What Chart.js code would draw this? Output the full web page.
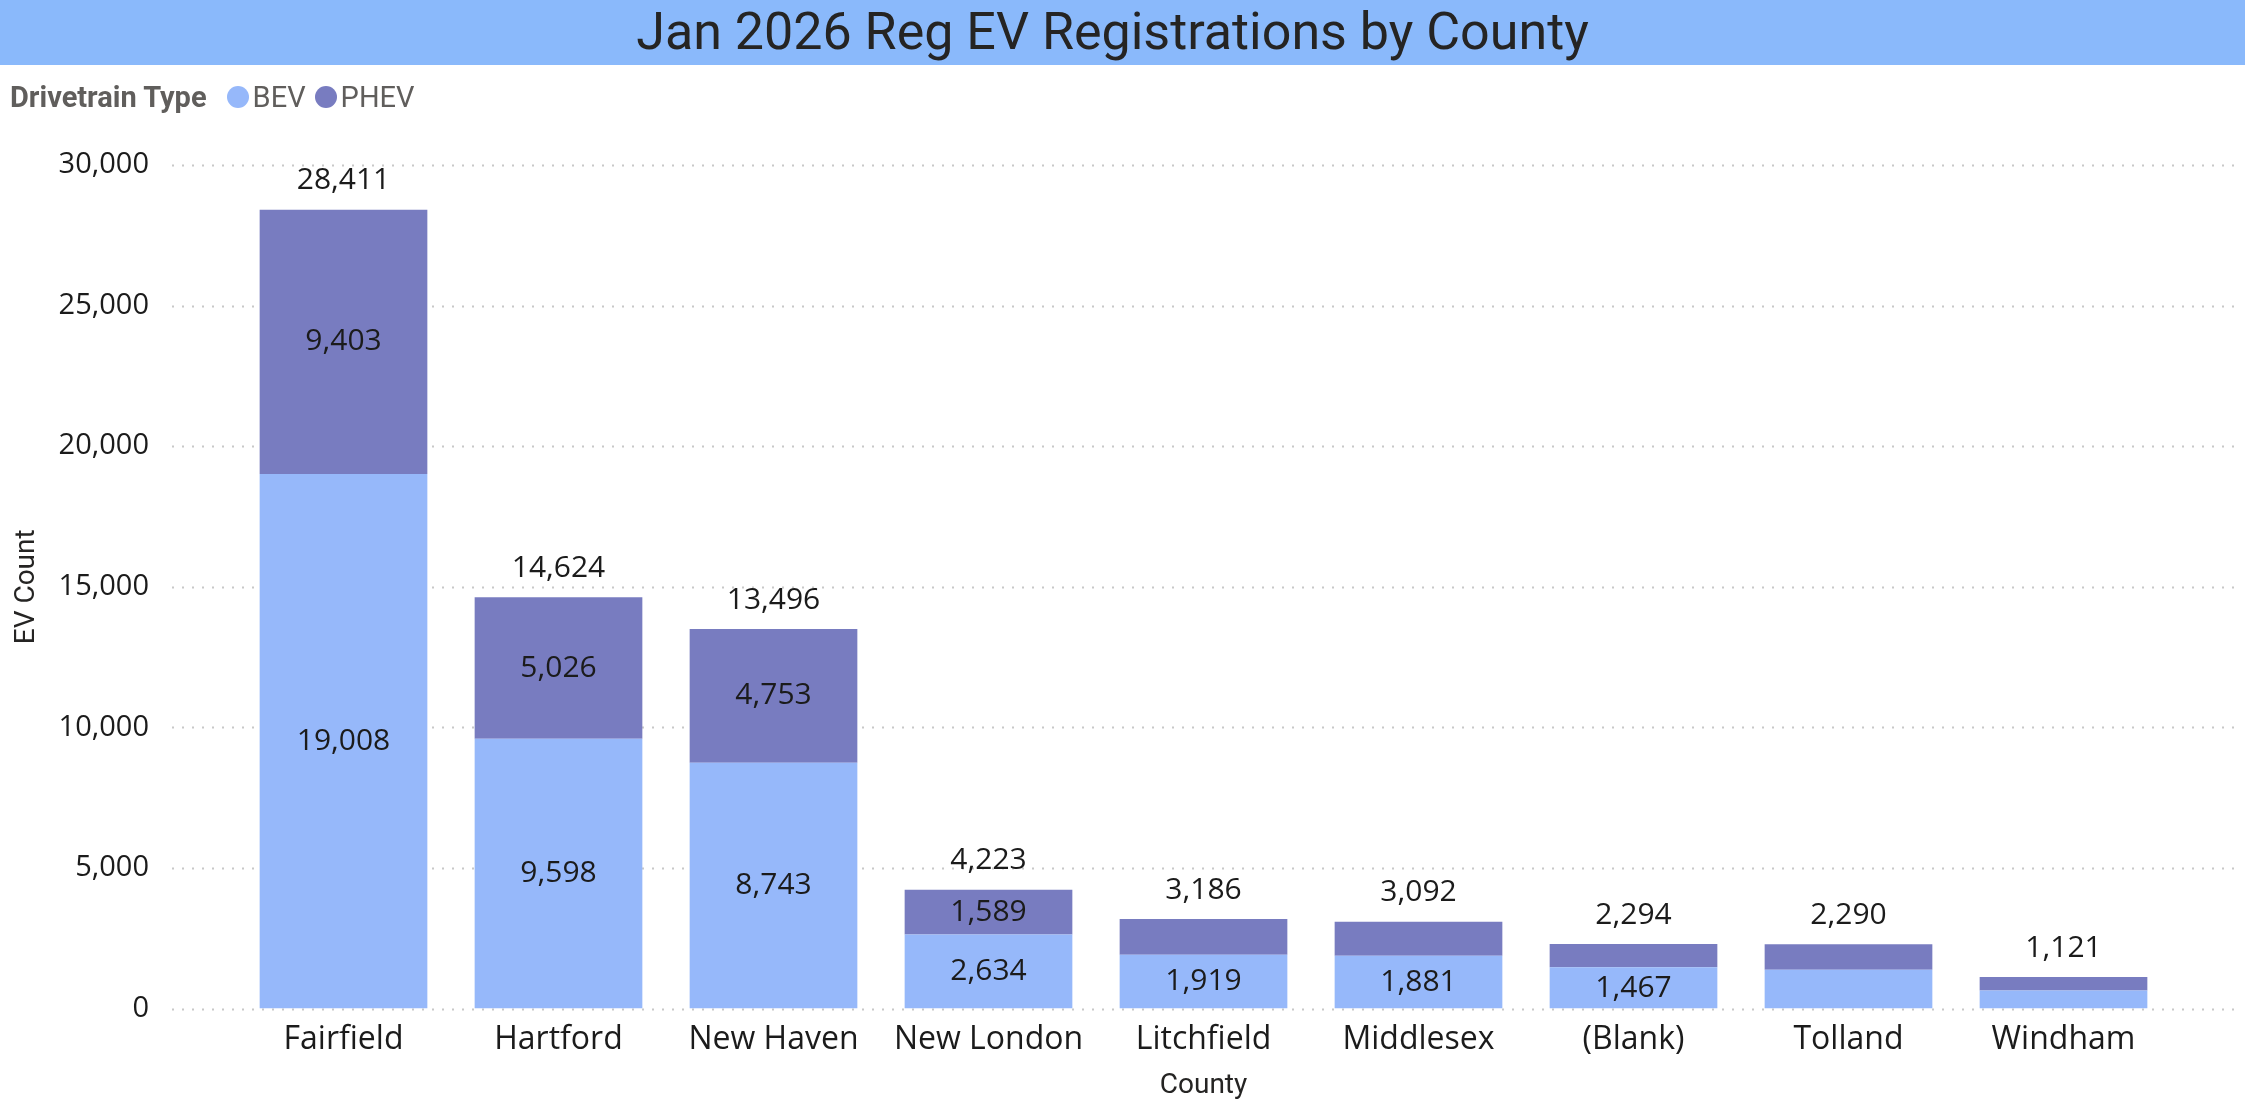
<!DOCTYPE html>
<html>
<head>
<meta charset="utf-8">
<script src="https://cdn.jsdelivr.net/npm/chart.js@4/dist/chart.umd.min.js"></script>
<style>
  html, body { margin: 0; padding: 0; background: #fff; }
  body { width: 2245px; height: 1105px; position: relative; overflow: hidden; }
  #chart { position: absolute; left: 0; top: 0; }
  #title {
    position: absolute; left: 0; top: 0; width: 2245px; height: 65px;
    background: #8ab9fb; color: #252423;
    font-family: Roboto, "DejaVu Sans", sans-serif; font-size: 52px; font-weight: 400;
    line-height: 64px; text-align: center; box-sizing: border-box; padding-right: 20px;
  }
  #legend {
    position: absolute; left: 10px; top: 80px; height: 34px;
    display: flex; align-items: center;
    font-family: Roboto, "DejaVu Sans", sans-serif; font-size: 29px; color: #605e5c;
  }
  #legend .head { font-weight: bold; margin-right: 20px; }
  #legend .item { display: flex; align-items: center; margin-right: 9px; }
  #legend .dot { width: 22px; height: 22px; border-radius: 50%; margin-right: 4px; }
</style>
</head>
<body>
<canvas id="chart" width="2245" height="1105"></canvas>
<div id="title">Jan 2026 Reg EV Registrations by County</div>
<div id="legend"><span class="head">Drivetrain Type</span></div>
<script>
// データ
const counties = ["Fairfield", "Hartford", "New Haven", "New London", "Litchfield",
  "Middlesex", "(Blank)", "Tolland", "Windham"];
const bevCounts = [19008, 9598, 8743, 2634, 1919, 1881, 1467, 1383, 640];
const phevCounts = [9403, 5026, 4753, 1589, 1267, 1211, 827, 907, 481];
const seriesNames = ["BEV", "PHEV"];
const seriesColors = ["#96b8fa", "#787cc0"];
const yMax = 30000;
const yStep = 5000;

const labelFont = "30px 'Segoe UI', 'Open Sans', sans-serif";
const fmt = (v) => v.toLocaleString("en-US");

// 点線のグリッド（プロット領域の外まで伸ばす）
const dottedGrid = {
  id: "dottedGrid",
  beforeDatasetsDraw(chart) {
    const ctx = chart.ctx;
    const y = chart.scales.y;
    ctx.save();
    ctx.strokeStyle = "#c8c8c8";
    ctx.lineWidth = 2;
    ctx.setLineDash([2, 8]);
    y.ticks.forEach((t) => {
      const py = Math.round(y.getPixelForValue(t.value)) + 0.5;
      ctx.beginPath();
      ctx.moveTo(172, py);
      ctx.lineTo(2235, py);
      ctx.stroke();
    });
    ctx.restore();
  },
};

// データラベル（各セグメントと合計）
const barLabels = {
  id: "barLabels",
  afterDatasetsDraw(chart) {
    const ctx = chart.ctx;
    ctx.save();
    ctx.font = labelFont;
    ctx.fillStyle = "#1b1b1b";
    ctx.textAlign = "center";
    ctx.textBaseline = "middle";
    chart.data.datasets.forEach((ds, di) => {
      const meta = chart.getDatasetMeta(di);
      meta.data.forEach((bar, i) => {
        const h = bar.base - bar.y;
        if (h >= 40) {
          ctx.fillText(fmt(ds.data[i]), bar.x, (bar.y + bar.base) / 2);
        }
      });
    });
    const topMeta = chart.getDatasetMeta(chart.data.datasets.length - 1);
    topMeta.data.forEach((bar, i) => {
      const total = bevCounts[i] + phevCounts[i];
      ctx.fillText(fmt(total), bar.x, bar.y - 29);
    });
    ctx.restore();
  },
};

const chart = new Chart(document.getElementById("chart"), {
  type: "bar",
  data: {
    labels: counties,
    datasets: [
      { label: seriesNames[0], data: bevCounts, backgroundColor: seriesColors[0] },
      { label: seriesNames[1], data: phevCounts, backgroundColor: seriesColors[1] },
    ],
  },
  options: {
    responsive: false,
    devicePixelRatio: 1,
    animation: false,
    layout: { padding: { top: 165, right: 74, left: 0, bottom: 0 } },
    datasets: { bar: { categoryPercentage: 0.78, barPercentage: 1, borderWidth: 0 } },
    plugins: { legend: { display: false }, tooltip: { enabled: false } },
    scales: {
      x: {
        stacked: true,
        grid: { display: false },
        border: { display: false },
        ticks: {
          color: "#1b1b1b",
          padding: 4,
          font: { family: "'Segoe UI', 'Open Sans', sans-serif", size: 32 },
        },
        title: {
          display: true,
          text: "County",
          color: "#252423",
          padding: { top: 0, bottom: -15 },
          font: { family: "Roboto, sans-serif", size: 28 },
        },
        afterFit: (s) => { s.height = 79; },
      },
      y: {
        stacked: true,
        min: 0,
        max: yMax,
        grid: { display: false },
        border: { display: false },
        ticks: {
          stepSize: yStep,
          color: "#1b1b1b",
          padding: 79,
          font: { family: "'Segoe UI', 'Open Sans', sans-serif", size: 29 },
          callback: (v) => fmt(v),
        },
        title: {
          display: true,
          text: "EV Count",
          color: "#252423",
          padding: { top: 10, bottom: 0 },
          font: { family: "Roboto, sans-serif", size: 28 },
        },
        afterFit: (s) => { s.width = 236; },
      },
    },
  },
  plugins: [dottedGrid, barLabels],
});

// 凡例をHTMLで作成
const legendEl = document.getElementById("legend");
chart.data.datasets.forEach((ds) => {
  const item = document.createElement("span");
  item.className = "item";
  item.innerHTML = `<span class="dot" style="background:${ds.backgroundColor}"></span>${ds.label}`;
  legendEl.appendChild(item);
});
</script>
</body>
</html>
